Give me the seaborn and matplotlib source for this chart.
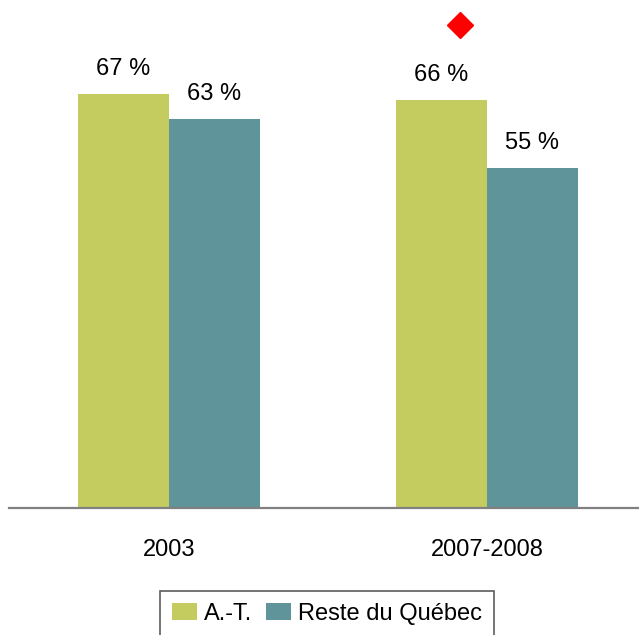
import matplotlib
matplotlib.use("Agg")
import matplotlib.pyplot as plt
import matplotlib.transforms as mtransforms
import seaborn as sns
import pandas as pd

# data
periods = ["2003", "2007-2008"]
groups = ["A.-T.", "Reste du Québec"]
at_values = [67, 66]
reste_values = [63, 55]
significant = ["2007-2008"]  # significant difference marker

colors = ["#C5CC5F", "#5F959A"]

df = pd.DataFrame({
    "period": periods * 2,
    "group": [groups[0]] * 2 + [groups[1]] * 2,
    "value": at_values + reste_values,
})

sns.set_style("white")
plt.rcParams["font.family"] = ["Liberation Sans", "DejaVu Sans"]
plt.rcParams["text.color"] = "black"
plt.rcParams["xtick.color"] = "black"

fig = plt.figure(figsize=(6.39, 6.35), dpi=100)
ax = fig.add_axes([9 / 639, 0.2, 630 / 639, 0.8])

sns.barplot(data=df, x="period", y="value", hue="group", order=periods,
            hue_order=groups, palette=colors, saturation=1, width=0.572,
            linewidth=0, ax=ax)

for cont in ax.containers:
    ax.bar_label(cont, fmt="%d %%", padding=10, fontsize=17, color="black")

# significance marker above the A.-T. bar
trans = mtransforms.blended_transform_factory(ax.transData, ax.transAxes)
for p in significant:
    ax.plot(periods.index(p) - 0.085, 0.951, marker="D", color="#FF0000",
            markersize=13.5, transform=trans, clip_on=False)

ax.set_ylim(0, 82.2)
ax.set_xlim(-0.503, 1.478)
ax.set_xlabel("")
ax.set_ylabel("")
ax.set_yticks([])
sns.despine(ax=ax, left=True)
ax.spines["bottom"].set_color("#808080")
ax.spines["bottom"].set_linewidth(1.6)
ax.tick_params(axis="x", length=0, labelsize=17, pad=22, labelcolor="black")

ax.get_legend().remove()
handles, labels = ax.get_legend_handles_labels()
leg = fig.legend(handles, labels, loc="upper center",
                 bbox_to_anchor=(327 / 639, 1 - 591 / 635), ncol=2,
                 fontsize=17, frameon=True, fancybox=False,
                 handlelength=1.05, handleheight=0.7, handletextpad=0.3,
                 columnspacing=0.6, borderpad=0.5, borderaxespad=0,
                 labelcolor="black")
leg.get_frame().set_edgecolor("#333333")
leg.get_frame().set_linewidth(1.2)

fig.savefig("out.png", dpi=100)
